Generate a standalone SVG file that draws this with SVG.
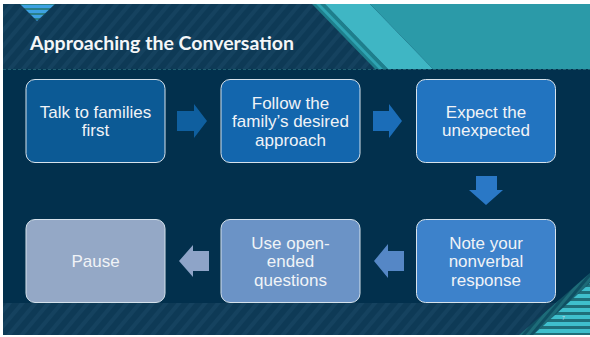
<svg xmlns="http://www.w3.org/2000/svg" width="590" height="337" viewBox="0 0 590 337">
  <defs>
    <pattern id="diag" width="10" height="10" patternUnits="userSpaceOnUse" patternTransform="rotate(40)">
      <rect width="10" height="10" fill="#0e3a56"/>
      <rect width="4" height="10" fill="#15425f"/>
    </pattern>
    <pattern id="hstripe" width="8" height="7" patternUnits="userSpaceOnUse">
      <rect width="8" height="7" fill="#1f6f7a"/>
      <rect width="8" height="4" fill="#3fbfcc"/>
    </pattern>
    <pattern id="tstripe" width="8" height="5" patternUnits="userSpaceOnUse">
      <rect width="8" height="5" fill="#2a8088"/>
      <rect width="8" height="3" fill="#3da2e2"/>
    </pattern>
    <pattern id="tealdiag" width="6" height="6" patternUnits="userSpaceOnUse" patternTransform="rotate(40)">
      <rect width="6" height="6" fill="#0f4f62"/>
      <rect width="3" height="6" fill="#1d6b78"/>
    </pattern>
  </defs>
  <style>
    .box { stroke: #d6e2ec; stroke-width: 1; }
    .lbl { font-family: "Liberation Sans", Arial, sans-serif; font-size: 17px; fill: #f0f3f7; text-anchor: middle; }
  </style>

  <rect x="0" y="0" width="590" height="337" fill="#ffffff"/>

  <!-- slide background -->
  <rect x="3" y="4" width="587" height="331" fill="#02304d"/>
  <!-- header -->
  <rect x="3" y="4" width="587" height="65" fill="url(#diag)"/>
  <polygon points="312,4 325,4 388,69 375,69" fill="#1e7f8c"/>
  <polygon points="316,4 320,4 383,69 379,69" fill="#2fa4b2"/>
  <polygon points="325,4 370,4 433,69 388,69" fill="#3fb6c4"/>
  <polygon points="370,4 590,4 590,69 433,69" fill="#2b9aa8"/>
  <line x1="3" y1="69.5" x2="590" y2="69.5" stroke="#1f5e70" stroke-width="1" stroke-dasharray="3,2"/>
  <!-- top-left triangle -->
  <polygon points="20,4 55,4 37,21" fill="url(#tstripe)"/>
  <!-- footer -->
  <rect x="3" y="303" width="587" height="32" fill="url(#diag)"/>
  <polygon points="519,335 590,273 590,283 533,335" fill="url(#tealdiag)"/>
  <polygon points="533,335 590,283 590,335" fill="url(#hstripe)"/>
  <text x="562" y="320" font-family="Liberation Sans, sans-serif" font-size="5" fill="#c8d8e0">7</text>

  <!-- title -->
  <text x="30" y="50" font-family="Lato, 'Open Sans', sans-serif" font-weight="bold" font-size="19.5" fill="#f4f6f8">Approaching the Conversation</text>

  <!-- connectors -->
  <g id="connectors">
    <polygon points="177,111 194,111 194,104 207,121 194,138 194,131 177,131" fill="#0f5f9f"/>
    <polygon points="373,111 389,111 389,104 402,121 389,138 389,131 373,131" fill="#1b6db8"/>
    <polygon points="476,176 497,176 497,190 503,190 486,205 469,190 476,190" fill="#2a78c6"/>
    <polygon points="404,251 388,251 388,244 374,261 388,278 388,271 404,271" fill="#5587c6"/>
    <polygon points="209,251 193,251 193,245 179,261 193,277 193,271 209,271" fill="#8ea4c8"/>
  </g>

  <g id="n1">
    <rect class="box" x="26" y="79.5" width="139" height="83" rx="9" fill="#0c5a95"/>
    <text class="lbl" x="95.5" y="117.5">Talk to families</text>
    <text class="lbl" x="95.5" y="136">first</text>
  </g>
  <g id="n2">
    <rect class="box" x="221" y="79.5" width="139" height="83" rx="9" fill="#1366ad"/>
    <text class="lbl" x="290.5" y="108.5">Follow the</text>
    <text class="lbl" x="290.5" y="127">family’s desired</text>
    <text class="lbl" x="290.5" y="145.5">approach</text>
  </g>
  <g id="n3">
    <rect class="box" x="416.5" y="79.5" width="139" height="83" rx="9" fill="#2274c0"/>
    <text class="lbl" x="486" y="117.5">Expect the</text>
    <text class="lbl" x="486" y="136">unexpected</text>
  </g>
  <g id="n4">
    <rect class="box" x="416.5" y="219.5" width="139" height="83" rx="9" fill="#3d82cb"/>
    <text class="lbl" x="486" y="248.5">Note your</text>
    <text class="lbl" x="486" y="267">nonverbal</text>
    <text class="lbl" x="486" y="285.5">response</text>
  </g>
  <g id="n5">
    <rect class="box" x="221" y="219.5" width="139" height="83" rx="9" fill="#6b93c6"/>
    <text class="lbl" x="290.5" y="248.5">Use open-</text>
    <text class="lbl" x="290.5" y="267">ended</text>
    <text class="lbl" x="290.5" y="285.5">questions</text>
  </g>
  <g id="n6">
    <rect class="box" x="26" y="219.5" width="139" height="83" rx="9" fill="#94a8c6"/>
    <text class="lbl" x="95.5" y="267">Pause</text>
  </g>
</svg>
